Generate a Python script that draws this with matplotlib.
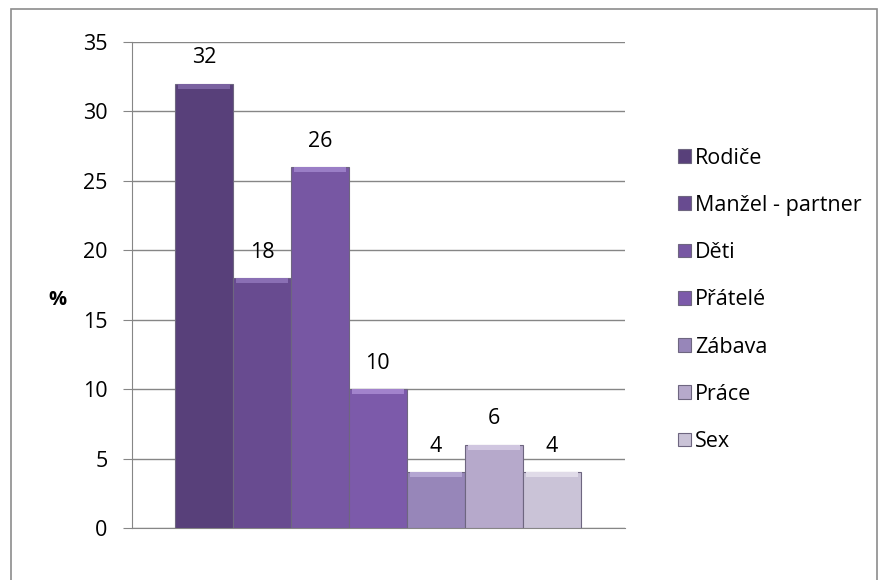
import matplotlib.pyplot as plt
from matplotlib.patches import Rectangle

categories = ["Rodiče", "Manžel - partner", "Děti", "Přátelé", "Zábava", "Práce", "Sex"]
values = [32, 18, 26, 10, 4, 6, 4]
colors = ["#58407a", "#684b90", "#7757a3", "#7c5aaa", "#9786b9", "#b6a9cb", "#cac3d7"]
highlights = ["#7a62a0", "#8a6fb4", "#9a7ec6", "#a283cc", "#b4a6d2", "#d0c6e0", "#e0dbe8"]
yticks = [0, 5, 10, 15, 20, 25, 30, 35]

plt.rcParams['font.family'] = ['Open Sans', 'DejaVu Sans']
fs = 15.5

fig = plt.figure(figsize=(8.8, 5.8), dpi=100)
ax = fig.add_axes([0.15, 0.0897, 0.56, 0.8379])

# outer chart frame
fig.patches.append(Rectangle((11 / 880, -0.01), 866 / 880, 1 - 9 / 580 + 0.01,
                             transform=fig.transFigure, fill=False,
                             edgecolor="#8c8c8c", linewidth=1.2))

for i, (cat, v, c, h) in enumerate(zip(categories, values, colors, highlights)):
    ax.bar(i, v, width=1.0, color=c, edgecolor="#6e6680", linewidth=0.8,
           label=cat, zorder=3)
    # light bevel at the top of each bar
    ax.bar(i, 0.35, bottom=v - 0.35, width=0.9, color=h, linewidth=0, zorder=4)
    ax.text(i, v + 1.1, str(v), ha="center", va="bottom", fontsize=fs, color="black")

ax.set_xlim(-0.5 - 0.74, 6.5 + 0.76)
ax.set_ylim(0, 35)
ax.set_yticks(yticks)
ax.set_xticks([])
ax.yaxis.grid(True, color="#868686", linewidth=1)
ax.set_axisbelow(True)
for s in ["top", "right"]:
    ax.spines[s].set_visible(False)
ax.spines["left"].set_color("#868686")
ax.spines["bottom"].set_color("#868686")
ax.tick_params(axis="y", length=6.5, color="#868686", labelsize=fs, pad=11)
ax.set_ylabel("%", rotation=0, fontsize=fs - 1, fontweight="bold", va="center", ha="center")
ax.yaxis.set_label_coords(-0.152, 0.469)

ax.legend(loc="center left", bbox_to_anchor=(0.770, 0.483), bbox_transform=fig.transFigure,
          frameon=False, fontsize=fs, handlelength=0.6, handleheight=0.6,
          handletextpad=0.2, labelspacing=1.22, borderpad=0, borderaxespad=0)

fig.savefig("out.png", dpi=100)
